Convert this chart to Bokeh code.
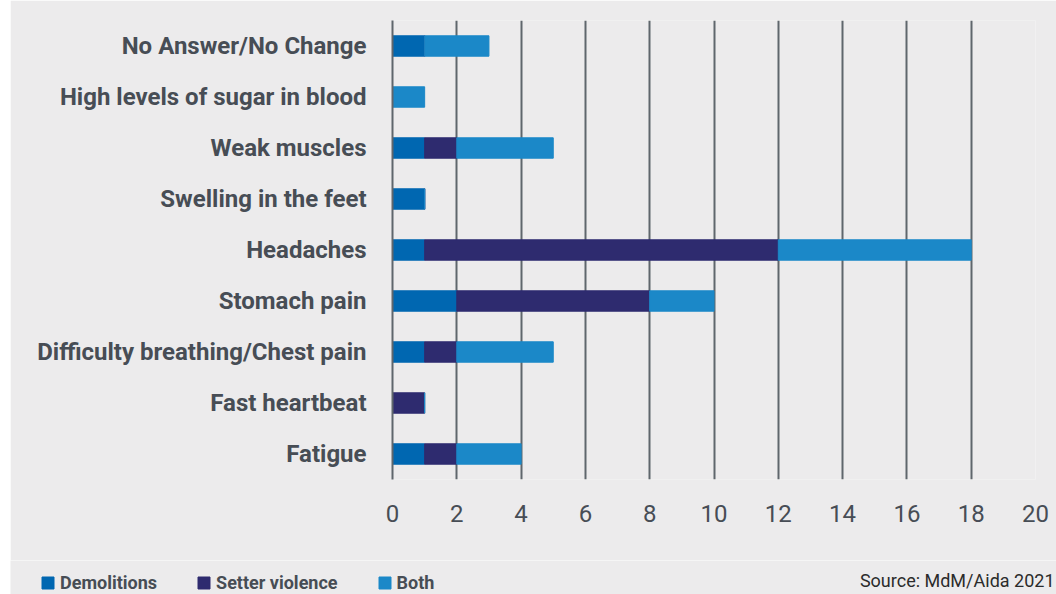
from bokeh.plotting import figure
from bokeh.models import (ColumnDataSource, FactorRange, Range1d, Legend, LegendItem, Label,
                          FixedTicker, Spacer)
from bokeh.layouts import row, column
from bokeh.embed import file_html
from bokeh.resources import INLINE

categories = ["No Answer/No Change", "High levels of sugar in blood", "Weak muscles",
              "Swelling in the feet", "Headaches", "Stomach pain",
              "Difficulty breathing/Chest pain", "Fast heartbeat", "Fatigue"]
demolitions = [1, 0, 1, 1, 1, 2, 1, 0, 1]
settler_violence = [0, 0, 1, 0, 11, 6, 1, 1, 1]
both = [2, 1, 3, 0, 6, 2, 3, 0, 2]
series_names = ["Demolitions", "Setter violence", "Both"]
colors = ["#0067b1", "#2e2b6f", "#1b88c8"]
x_ticks = [0, 2, 4, 6, 8, 10, 12, 14, 16, 18, 20]
source_text = "Source: MdM/Aida 2021"

BG = "#ecebec"
TXT = "#474d55"
LINE = "#5f666c"
FONT = "Roboto"

source = ColumnDataSource(dict(cat=categories, Demolitions=demolitions,
                               **{"Setter violence": settler_violence}, Both=both))

p = figure(width=1046, height=560, output_backend="svg", toolbar_location=None,
           y_range=FactorRange(*reversed(categories)), x_range=Range1d(0, 20),
           min_border_left=382, min_border_right=21, min_border_top=20, min_border_bottom=81)
p.frame_align = False
p.border_fill_color = BG
p.background_fill_color = BG
p.outline_line_color = None

p.hbar_stack(series_names, y="cat", height=0.4, color=colors, source=source)

p.xaxis.ticker = FixedTicker(ticks=x_ticks)
p.xaxis.axis_line_color = None
p.xaxis.major_tick_line_color = None
p.xaxis.minor_tick_line_color = None
p.xaxis.major_label_text_font = FONT
p.xaxis.major_label_text_font_size = "24px"
p.xaxis.major_label_text_color = TXT
p.xaxis.major_label_standoff = 19

p.yaxis.axis_line_color = LINE
p.yaxis.axis_line_width = 2
p.yaxis.major_tick_line_color = None
p.yaxis.minor_tick_line_color = None
p.yaxis.major_label_text_font = FONT
p.yaxis.major_label_text_font_size = "24px"
p.yaxis.major_label_text_font_style = "bold"
p.yaxis.major_label_text_color = TXT
p.yaxis.major_label_standoff = 20

p.xgrid.grid_line_color = LINE
p.xgrid.grid_line_width = 2
p.ygrid.grid_line_color = None

# legend / source strip
p2 = figure(width=1046, height=34, output_backend="svg", toolbar_location=None,
            x_range=Range1d(0, 1046), y_range=Range1d(0, 34),
            min_border_left=0, min_border_right=0, min_border_top=0, min_border_bottom=0)
p2.frame_align = False
p2.border_fill_color = BG
p2.background_fill_color = BG
p2.outline_line_color = None
p2.axis.visible = False
p2.grid.visible = False
dummies = [p2.hbar(y=[-100], left=[-100], right=[-90], height=1, color=c) for c in colors]

legend = Legend(items=[LegendItem(label=n, renderers=[r]) for n, r in zip(series_names, dummies)],
                orientation="horizontal", location=(30, 1),
                padding=0, margin=0, spacing=39, glyph_width=15, glyph_height=15,
                label_standoff=5, border_line_color=None, background_fill_alpha=0,
                label_text_font=FONT, label_text_font_size="18px", label_text_font_style="bold",
                label_text_color=TXT, label_height=15)
p2.add_layout(legend, "center")

p2.add_layout(Label(x=1044, y=14, text=source_text, text_align="right",
                    text_baseline="middle", text_font=FONT,
                    text_font_size="18px", text_color="#2b2b2b"))

layout = row(Spacer(width=10, height=594), column(p, p2))
open("out.html", "w").write(file_html(layout, INLINE))
